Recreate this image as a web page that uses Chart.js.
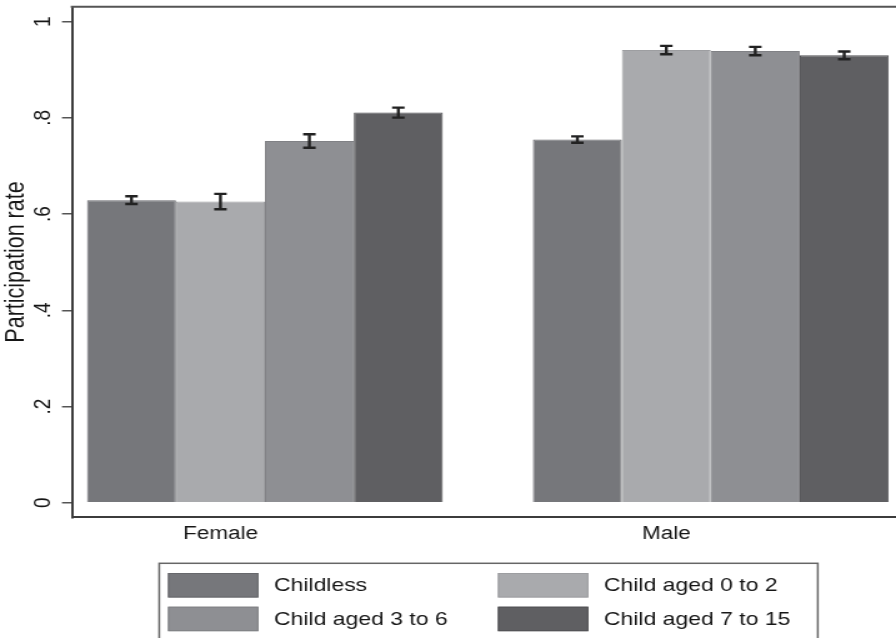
<!DOCTYPE html>
<html>
<head>
<meta charset="utf-8">
<script src="https://cdn.jsdelivr.net/npm/chart.js@4/dist/chart.umd.min.js"></script>
<style>
  html, body { margin: 0; padding: 0; background: #fff; overflow: hidden; }
</style>
</head>
<body>
<!-- the original figure is stretched horizontally, so the canvas is drawn narrow and shown wide -->
<canvas id="participationChart" width="717" height="638" style="width:896px;height:638px;display:block"></canvas>
<script>
// data
const groups = ['Female', 'Male'];
const seriesLabels = ['Childless', 'Child aged 0 to 2', 'Child aged 3 to 6', 'Child aged 7 to 15'];
const childless = [0.629, 0.755];
const aged0to2 = [0.626, 0.941];
const aged3to6 = [0.752, 0.939];
const aged7to15 = [0.811, 0.930];
// half-width of the confidence intervals
const childlessErr = [0.008, 0.0066];
const aged0to2Err = [0.016, 0.0087];
const aged3to6Err = [0.014, 0.0087];
const aged7to15Err = [0.0104, 0.008];
const yTicks = [0, 0.2, 0.4, 0.6, 0.8, 1];

const fills = ['#76777b', '#a9aaad', '#8e8f93', '#5f5f62'];
const borders = ['#67686c', '#9d9ea1', '#808185', '#525255'];
const textColor = '#161616';
const axisColor = '#3c3c3c';

Chart.defaults.font.family = "'Liberation Sans', Arial, Helvetica, sans-serif";
Chart.defaults.font.size = 18;
Chart.defaults.color = textColor;

const values = [childless, aged0to2, aged3to6, aged7to15];
const errors = [childlessErr, aged0to2Err, aged3to6Err, aged7to15Err];

const datasets = seriesLabels.map(function (label, i) {
    return {
        label: label,
        data: values[i].map(function (v, j) { return { x: j, y: v }; }),
        errors: errors[i],
        backgroundColor: fills[i],
        borderColor: borders[i],
        borderWidth: 1,
        barPercentage: 1,
        categoryPercentage: 0.798
    };
});

// error bars drawn from each bar's position and the y scale
const errorBars = {
    id: 'errorBars',
    afterDatasetsDraw(chart) {
        const ctx = chart.ctx;
        const yScale = chart.scales.y;
        ctx.save();
        ctx.strokeStyle = '#222';
        ctx.lineWidth = 2.4;
        chart.data.datasets.forEach(function (ds, i) {
            chart.getDatasetMeta(i).data.forEach(function (bar, j) {
                const v = ds.data[j].y;
                const e = ds.errors[j];
                const top = yScale.getPixelForValue(v + e);
                const bottom = yScale.getPixelForValue(v - e);
                const half = 5;
                ctx.beginPath();
                ctx.moveTo(bar.x, top);
                ctx.lineTo(bar.x, bottom);
                ctx.moveTo(bar.x - half, top);
                ctx.lineTo(bar.x + half, top);
                ctx.moveTo(bar.x - half, bottom);
                ctx.lineTo(bar.x + half, bottom);
                ctx.stroke();
            });
        });
        ctx.restore();
    }
};

// top edge of the plot frame and the boxed legend
const frameAndLegend = {
    id: 'frameAndLegend',
    afterDraw(chart) {
        const ctx = chart.ctx;
        const area = chart.chartArea;
        ctx.save();
        ctx.strokeStyle = '#555';
        ctx.lineWidth = 2;
        ctx.beginPath();
        ctx.moveTo(area.left - 1, area.top);
        ctx.lineTo(area.right, area.top);
        ctx.stroke();

        // legend box
        ctx.strokeStyle = '#666';
        ctx.lineWidth = 1.5;
        ctx.strokeRect(127.4, 563.3, 527, 90);

        const cols = [134.4, 398.4];
        const rows = [573, 606.7];
        ctx.font = "18.4px 'Liberation Sans', Arial, Helvetica, sans-serif";
        ctx.textBaseline = 'middle';
        ctx.textAlign = 'left';
        chart.data.datasets.forEach(function (ds, i) {
            const x = cols[i % 2];
            const y = rows[Math.floor(i / 2)];
            ctx.fillStyle = ds.backgroundColor;
            ctx.fillRect(x, y, 72.4, 24.5);
            ctx.strokeStyle = ds.borderColor;
            ctx.lineWidth = 1;
            ctx.strokeRect(x + 0.5, y + 0.5, 71.4, 23.5);
            ctx.fillStyle = textColor;
            ctx.fillText(ds.label, x + 84.8, y + 13);
        });
        ctx.restore();
    }
};

const chart = new Chart(document.getElementById('participationChart'), {
    type: 'bar',
    data: { datasets: datasets },
    options: {
        responsive: false,
        animation: false,
        layout: { padding: { top: 6.7, left: 0, right: 0, bottom: 0 } },
        plugins: {
            legend: { display: false },
            tooltip: { enabled: false }
        },
        scales: {
            x: {
                type: 'linear',
                offset: false,
                bounds: 'data',
                min: -0.4327,
                max: 1.4154,
                grid: { display: false, drawTicks: false, offset: false },
                border: { display: true, color: axisColor, width: 2 },
                afterBuildTicks: function (scale) {
                    scale.ticks = groups.map(function (g, j) { return { value: j }; });
                },
                afterFit: function (scale) {
                    scale.height = 120.7;
                    scale.paddingLeft = 0;
                    scale.paddingRight = 0;
                },
                ticks: {
                    autoSkip: false,
                    maxRotation: 0,
                    padding: 6,
                    labelOffset: -35.5,
                    color: textColor,
                    font: { size: 18 },
                    callback: function (value) { return groups[value]; }
                }
            },
            y: {
                min: -0.0304,
                max: 1.0312,
                grid: {
                    drawOnChartArea: false,
                    drawTicks: true,
                    tickLength: 8,
                    tickColor: '#555',
                    lineWidth: 1.5
                },
                border: { display: true, color: axisColor, width: 2 },
                afterBuildTicks: function (scale) {
                    scale.ticks = yTicks.map(function (v) { return { value: v }; });
                },
                afterFit: function (scale) {
                    scale.width = 57.6;
                    scale.paddingTop = 0;
                    scale.paddingBottom = 0;
                },
                title: {
                    display: true,
                    text: 'Participation rate',
                    color: textColor,
                    font: { size: 21.5 },
                    padding: { top: 0, bottom: 0 }
                },
                ticks: {
                    minRotation: 90,
                    maxRotation: 90,
                    crossAlign: 'center',
                    padding: 7,
                    color: textColor,
                    font: { size: 19 },
                    callback: function (value) {
                        if (value === 0) return '0';
                        if (value === 1) return '1';
                        return String(value).replace('0.', '.');
                    }
                }
            }
        }
    },
    plugins: [errorBars, frameAndLegend]
});
</script>
</body>
</html>
